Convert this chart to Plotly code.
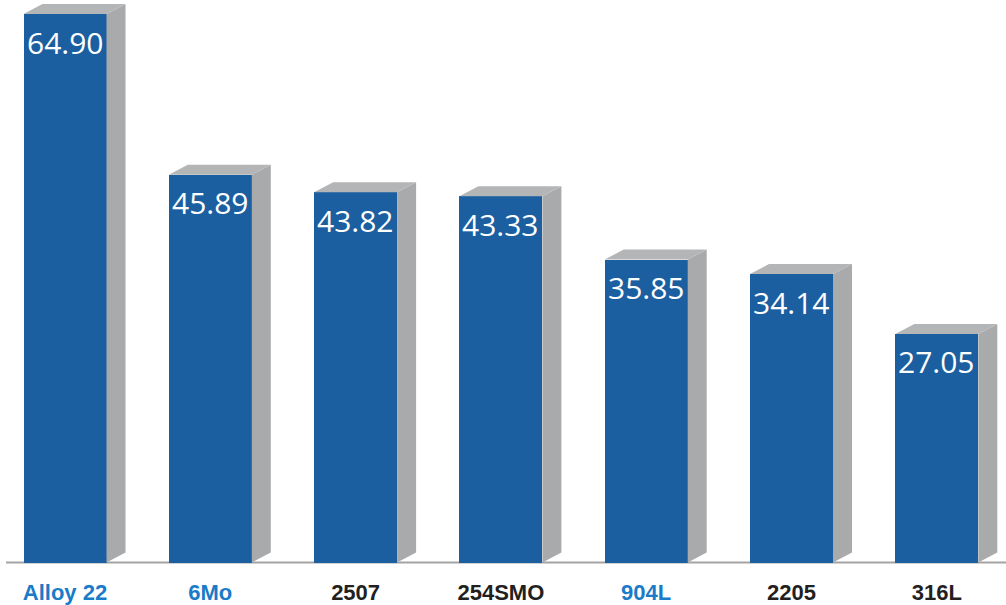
import plotly.graph_objects as go

categories = ["Alloy 22", "6Mo", "2507", "254SMO", "904L", "2205", "316L"]
values = [64.90, 45.89, 43.82, 43.33, 35.85, 34.14, 27.05]
value_labels = ["64.90", "45.89", "43.82", "43.33", "35.85", "34.14", "27.05"]
label_colors = ["#1a7bc8", "#1a7bc8", "#231f20", "#231f20", "#1a7bc8", "#231f20", "#231f20"]

FRONT = "#1b5fa1"
SIDE = "#a9aaac"
TOP = "#b4b5b7"

W = 1006
H = 605
ML, MR, MT, MB = 6, 0, 0, 39
x_pos = list(range(len(categories)))
px_per_x = 145.3
x_left = -59 / px_per_x
x_range = [x_left, x_left + (W - ML - MR) / px_per_x]
px_per_y = 8.45
y_min = -3.5 / px_per_y
y_range = [y_min, y_min + (H - MT - MB) / px_per_y]

bar_w = 83 / px_per_x
dx = 19 / px_per_x
dy = 10 / px_per_y

side_x, side_y, top_x, top_y = [], [], [], []
for xi, v in zip(x_pos, values):
    xl = xi - bar_w / 2
    xr = xi + bar_w / 2
    side_x += [xr, xr + dx, xr + dx, xr, xr, None]
    side_y += [0, dy, v + dy, v, 0, None]
    top_x += [xl, xl + dx, xr + dx, xr, xl, None]
    top_y += [v, v + dy, v + dy, v, v, None]

fig = go.Figure()
fig.add_trace(go.Scatter(x=side_x, y=side_y, fill="toself", fillcolor=SIDE,
                         mode="lines", line=dict(width=0, color=SIDE),
                         hoverinfo="skip", showlegend=False))
fig.add_trace(go.Scatter(x=top_x, y=top_y, fill="toself", fillcolor=TOP,
                         mode="lines", line=dict(width=0, color=TOP),
                         hoverinfo="skip", showlegend=False))
fig.add_trace(go.Bar(x=x_pos, y=values, width=bar_w, marker=dict(color=FRONT, line=dict(width=0)),
                     showlegend=False, hoverinfo="x+y"))

for xi, v, t in zip(x_pos, values, value_labels):
    fig.add_annotation(x=xi, y=v, text=t, showarrow=False, yanchor="middle", yshift=-28,
                       font=dict(family="Open Sans, sans-serif", size=30, color="white"))

ticktext = [f'<span style="color:{c}">{t}</span>' for t, c in zip(categories, label_colors)]

fig.add_shape(type="line", xref="paper", yref="y", x0=0, x1=1, y0=0, y1=0,
              line=dict(color="#a3a3a3", width=2), layer="below")

fig.update_layout(
    width=W, height=H,
    margin=dict(l=ML, r=MR, t=MT, b=MB),
    paper_bgcolor="white", plot_bgcolor="white",
    bargap=0,
    xaxis=dict(range=x_range, tickvals=x_pos, ticktext=ticktext, showgrid=False,
               zeroline=False, showline=False, ticks="", ticklabelstandoff=11,
               tickfont=dict(family="Liberation Sans, Arial, sans-serif", size=22, color="#231f20", weight="bold")),
    yaxis=dict(range=y_range, visible=False, showgrid=False, zeroline=False),
)

fig.write_html("out.html", config={"displayModeBar": False},
               post_script="document.body.style.margin='0';")
